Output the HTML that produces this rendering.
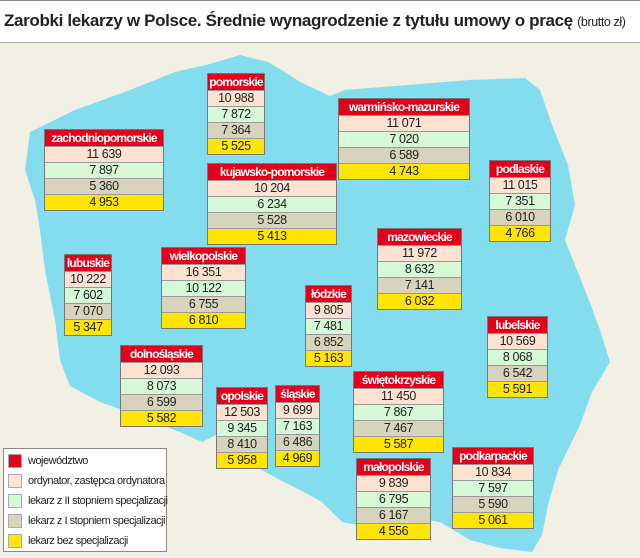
<!DOCTYPE html>
<html><head><meta charset="utf-8"><style>
body{margin:0;width:640px;height:558px;overflow:hidden;background:#f2efe4;font-family:"Liberation Sans",sans-serif;position:relative}
#title{position:absolute;left:0;top:0;width:640px;height:43px;background:#fff;border-top:1px solid #888;border-bottom:1px solid #aaa;box-sizing:border-box}
#title div{position:absolute;left:4px;top:10px;font-size:17px;font-weight:bold;color:#222;letter-spacing:-0.35px;white-space:nowrap}
#title span{font-weight:normal;font-size:12.5px;letter-spacing:-0.4px}
.b{position:absolute;border:1px solid #777;box-sizing:border-box;text-align:center;font-size:12.5px;color:#222;letter-spacing:-0.4px}
.b div{height:15px;line-height:15px;border-top:1px solid #999;white-space:nowrap;overflow:hidden}
.b .h{background:#e2001a;color:#fff;font-weight:bold;border-top:none;height:16px;line-height:16px;font-size:12px;letter-spacing:-0.8px}
.r1{background:#fde2d2}.r2{background:#d6f8d6}.r3{background:#d7d3bd}.r4{background:#ffe500}
#leg{position:absolute;left:3px;top:448px;width:164px;height:104px;background:#fff;border:1px solid #888;box-sizing:border-box;font-size:11px;color:#222;letter-spacing:-0.5px}
#leg div{position:absolute;left:4px;height:16px;line-height:16px;white-space:nowrap}
#leg i{display:inline-block;width:14px;height:14px;vertical-align:middle;margin-right:6px;border:1px solid #aaa;box-sizing:border-box}
</style></head><body>
<div id="title"><div>Zarobki lekarzy w Polsce. Średnie wynagrodzenie z tytułu umowy o pracę <span>(brutto zł)</span></div></div>
<svg style="position:absolute;left:0;top:0" width="640" height="558">
<polygon fill="#84dcef" points="30,132 75,110 130,90 175,72 210,64 240,55 268,62 285,72 300,82 330,96 345,90 420,84 470,80 525,78 540,90 552,125 568,165 575,205 565,240 585,290 600,330 610,362 592,392 580,425 558,470 548,505 542,535 532,552 500,548 470,540 440,522 405,516 372,528 342,522 322,502 300,490 280,480 262,470 246,456 222,432 202,442 180,432 140,416 100,402 70,386 60,360 55,320 45,270 40,230 35,200 25,170"/>
</svg>
<div class="b" style="left:207px;top:73px;width:58px"><div class="h">pomorskie</div><div class="r1">10 988</div><div class="r2">7 872</div><div class="r3">7 364</div><div class="r4">5 525</div></div>
<div class="b" style="left:338px;top:98px;width:132px"><div class="h">warmińsko-mazurskie</div><div class="r1">11 071</div><div class="r2">7 020</div><div class="r3">6 589</div><div class="r4">4 743</div></div>
<div class="b" style="left:44px;top:129px;width:120px"><div class="h">zachodniopomorskie</div><div class="r1">11 639</div><div class="r2">7 897</div><div class="r3">5 360</div><div class="r4">4 953</div></div>
<div class="b" style="left:207px;top:163px;width:130px"><div class="h">kujawsko-pomorskie</div><div class="r1">10 204</div><div class="r2">6 234</div><div class="r3">5 528</div><div class="r4">5 413</div></div>
<div class="b" style="left:489px;top:160px;width:62px"><div class="h">podlaskie</div><div class="r1">11 015</div><div class="r2">7 351</div><div class="r3">6 010</div><div class="r4">4 766</div></div>
<div class="b" style="left:377px;top:228px;width:85px"><div class="h">mazowieckie</div><div class="r1">11 972</div><div class="r2">8 632</div><div class="r3">7 141</div><div class="r4">6 032</div></div>
<div class="b" style="left:64px;top:254px;width:48px"><div class="h">lubuskie</div><div class="r1">10 222</div><div class="r2">7 602</div><div class="r3">7 070</div><div class="r4">5 347</div></div>
<div class="b" style="left:161px;top:247px;width:85px"><div class="h">wielkopolskie</div><div class="r1">16 351</div><div class="r2">10 122</div><div class="r3">6 755</div><div class="r4">6 810</div></div>
<div class="b" style="left:305px;top:285px;width:47px"><div class="h">łódzkie</div><div class="r1">9 805</div><div class="r2">7 481</div><div class="r3">6 852</div><div class="r4">5 163</div></div>
<div class="b" style="left:487px;top:316px;width:61px"><div class="h">lubelskie</div><div class="r1">10 569</div><div class="r2">8 068</div><div class="r3">6 542</div><div class="r4">5 591</div></div>
<div class="b" style="left:120px;top:345px;width:83px"><div class="h">dolnośląskie</div><div class="r1">12 093</div><div class="r2">8 073</div><div class="r3">6 599</div><div class="r4">5 582</div></div>
<div class="b" style="left:353px;top:371px;width:91px"><div class="h">świętokrzyskie</div><div class="r1">11 450</div><div class="r2">7 867</div><div class="r3">7 467</div><div class="r4">5 587</div></div>
<div class="b" style="left:216px;top:387px;width:52px"><div class="h">opolskie</div><div class="r1">12 503</div><div class="r2">9 345</div><div class="r3">8 410</div><div class="r4">5 958</div></div>
<div class="b" style="left:275px;top:385px;width:45px"><div class="h">śląskie</div><div class="r1">9 699</div><div class="r2">7 163</div><div class="r3">6 486</div><div class="r4">4 969</div></div>
<div class="b" style="left:356px;top:458px;width:75px"><div class="h">małopolskie</div><div class="r1">9 839</div><div class="r2">6 795</div><div class="r3">6 167</div><div class="r4">4 556</div></div>
<div class="b" style="left:452px;top:447px;width:82px"><div class="h">podkarpackie</div><div class="r1">10 834</div><div class="r2">7 597</div><div class="r3">5 590</div><div class="r4">5 061</div></div>
<div id="leg">
<div style="top:4px"><i style="background:#e2001a"></i>województwo</div>
<div style="top:24px"><i class="r1"></i>ordynator, zastępca ordynatora</div>
<div style="top:44px"><i class="r2"></i>lekarz z II stopniem specjalizacji</div>
<div style="top:64px"><i class="r3"></i>lekarz z I stopniem specjalizacji</div>
<div style="top:84px"><i class="r4"></i>lekarz bez specjalizacji</div>
</div>
</body></html>
